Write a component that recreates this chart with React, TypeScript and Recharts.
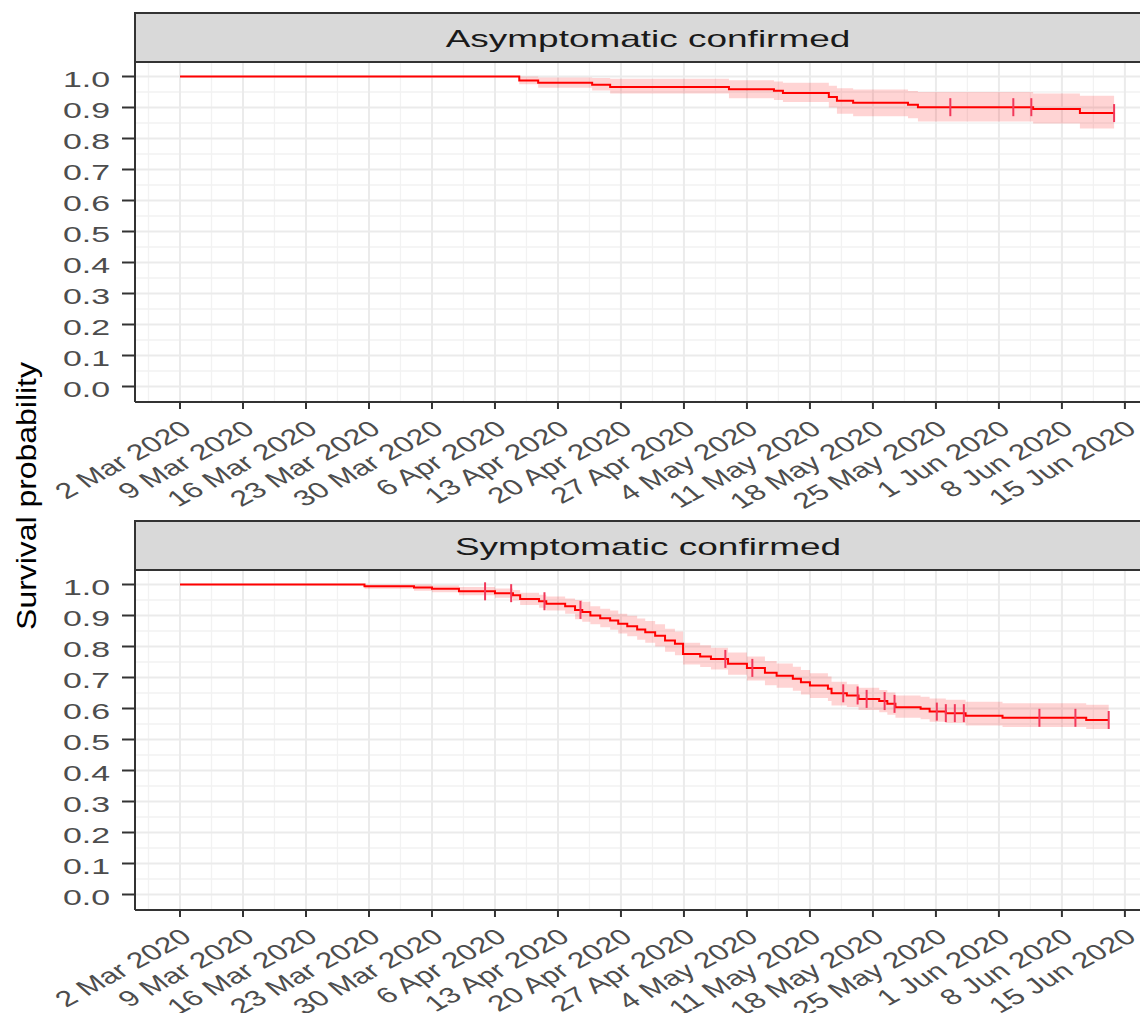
import React from "react";
import { ComposedChart, Line, Area, Scatter, XAxis, YAxis, CartesianGrid } from "recharts";

const FONT = '"Liberation Sans", Arial, Helvetica, sans-serif';

// ---- axis ticks ----
const xTickDays = [0, 7, 14, 21, 28, 35, 42, 49, 56, 63, 70, 77, 84, 91, 98, 105];
const xTickLabels = [
  "2 Mar 2020", "9 Mar 2020", "16 Mar 2020", "23 Mar 2020", "30 Mar 2020", "6 Apr 2020",
  "13 Apr 2020", "20 Apr 2020", "27 Apr 2020", "4 May 2020", "11 May 2020", "18 May 2020",
  "25 May 2020", "1 Jun 2020", "8 Jun 2020", "15 Jun 2020",
];
const xMinorDays = [-3.5, 3.5, 10.5, 17.5, 24.5, 31.5, 38.5, 45.5, 52.5, 59.5, 66.5, 73.5, 80.5, 87.5, 94.5, 101.5, 108.5];
const yTicks = [0, 0.1, 0.2, 0.3, 0.4, 0.5, 0.6, 0.7, 0.8, 0.9, 1.0];
const yTickLabels = ["0.0", "0.1", "0.2", "0.3", "0.4", "0.5", "0.6", "0.7", "0.8", "0.9", "1.0"];
const yMinor = [0.05, 0.15, 0.25, 0.35, 0.45, 0.55, 0.65, 0.75, 0.85, 0.95];

// ---- Asymptomatic confirmed (days since 2 Mar 2020) ----
const asymTime = [0, 37.7, 39.8, 45.8, 47.8, 61, 66, 67, 72.1, 73, 74.8, 80.9, 82, 94.8, 100, 103.8];
const asymSurv = [1, 0.987, 0.98, 0.973, 0.966, 0.959, 0.954, 0.947, 0.934, 0.922, 0.915, 0.909, 0.901, 0.895, 0.882, 0.882];
const asymLower = [1, 0.975, 0.964, 0.955, 0.945, 0.93, 0.924, 0.918, 0.9, 0.88, 0.872, 0.865, 0.855, 0.848, 0.832, 0.832];
const asymUpper = [1, 1.0, 0.997, 0.995, 0.993, 0.988, 0.984, 0.98, 0.97, 0.962, 0.958, 0.953, 0.95, 0.945, 0.938, 0.938];
const asymCensorTime = [85.6, 92.6, 94.6, 103.8];
const asymCensorSurv = [0.901, 0.901, 0.901, 0.882];

// ---- Symptomatic confirmed ----
const symTime = [
  0, 20.5, 26, 28, 31, 35, 37, 37.8, 39.9, 40.7, 42.8, 43.9, 44.7, 45.6, 46.7, 47.8, 48.7, 49.7,
  50.8, 51.7, 52.8, 53.9, 55, 55.9, 57.8, 59, 60.9, 63, 65, 66.3, 68.1, 69, 70, 72, 72.4, 74.1,
  75.4, 77.7, 78.6, 79.5, 82.3, 83.3, 85.1, 87.3, 91.4, 100.7, 103.2,
];
const symSurv = [
  1, 0.994, 0.99, 0.986, 0.978, 0.972, 0.965, 0.953, 0.946, 0.938, 0.93, 0.918, 0.911, 0.9, 0.891, 0.884, 0.873, 0.865,
  0.855, 0.846, 0.835, 0.819, 0.809, 0.776, 0.768, 0.76, 0.744, 0.731, 0.715, 0.706, 0.696, 0.685, 0.674, 0.664, 0.649, 0.642,
  0.631, 0.624, 0.615, 0.604, 0.599, 0.59, 0.585, 0.577, 0.57, 0.563, 0.563,
];
const symLower = [
  1, 0.986, 0.98, 0.975, 0.965, 0.957, 0.948, 0.934, 0.925, 0.916, 0.906, 0.888, 0.88, 0.872, 0.862, 0.854, 0.842, 0.833,
  0.822, 0.812, 0.8, 0.783, 0.772, 0.742, 0.734, 0.726, 0.709, 0.69, 0.675, 0.667, 0.657, 0.645, 0.634, 0.624, 0.61, 0.605,
  0.595, 0.588, 0.58, 0.57, 0.565, 0.557, 0.553, 0.545, 0.54, 0.534, 0.534,
];
const symUpper = [
  1, 1.0, 1.0, 0.997, 0.992, 0.987, 0.982, 0.973, 0.967, 0.961, 0.955, 0.95, 0.944, 0.93, 0.922, 0.916, 0.906, 0.899,
  0.89, 0.882, 0.872, 0.857, 0.848, 0.812, 0.804, 0.796, 0.781, 0.768, 0.753, 0.745, 0.735, 0.724, 0.714, 0.703, 0.686, 0.678,
  0.667, 0.66, 0.652, 0.642, 0.638, 0.632, 0.628, 0.622, 0.617, 0.612, 0.612,
];
const symCensorTime = [33.9, 36.8, 40.5, 44.5, 60.6, 63.6, 73.7, 75.3, 76.3, 78.3, 79.4, 84.1, 85.1, 86.1, 87.1, 95.5, 99.5, 103.2];
const symCensorSurv = [0.978, 0.972, 0.946, 0.918, 0.76, 0.731, 0.649, 0.642, 0.631, 0.624, 0.615, 0.59, 0.585, 0.585, 0.585, 0.57, 0.57, 0.563];

const SX = 1.54;

const XTick = (props: any) => {
  const { x, y, payload } = props;
  const idx = xTickDays.indexOf(payload.value);
  const label = idx >= 0 ? xTickLabels[idx] : "";
  return (
    <text
      transform={`translate(${x - 1},${y + 8}) scale(1.45,1) rotate(-38)`}
      textAnchor="end"
      dy="0.72em"
      fontSize={22}
      fontFamily={FONT}
      fill="#4D4D4D"
    >
      {label}
    </text>
  );
};

const YTick = (props: any) => {
  const { x, y, payload } = props;
  const idx = yTicks.indexOf(payload.value);
  const label = idx >= 0 ? yTickLabels[idx] : "";
  return (
    <text
      transform={`translate(${x - 10},${y + 10}) scale(${SX},1)`}
      textAnchor="end"
      fontSize={22}
      fontFamily={FONT}
      fill="#4D4D4D"
    >
      {label}
    </text>
  );
};

const CensorMark = (props: any) => {
  const { cx, cy } = props;
  if (cx == null || cy == null) return null;
  return <line x1={cx} x2={cx} y1={cy - 9} y2={cy + 9} stroke="#F2385A" strokeWidth={2} />;
};

function Panel(props: {
  title: string;
  top: number;
  time: number[];
  surv: number[];
  lower: number[];
  upper: number[];
  cTime: number[];
  cSurv: number[];
}) {
  const { title, top, time, surv, lower, upper, cTime, cSurv } = props;
  const lineData = time.map((t, i) => ({ t, s: surv[i], band: [lower[i], upper[i]] }));
  const censorData = cTime.map((t, i) => ({ t, s: cSurv[i] }));
  return (
    <>
      <div style={{ position: "absolute", left: 0, top, width: 1200, height: 520 }}>
        <ComposedChart width={1200} height={520} margin={{ top: 61, right: 40, bottom: 28, left: 0 }}>
          <CartesianGrid
            horizontalValues={yMinor}
            verticalValues={xMinorDays}
            stroke="#F2F2F2"
            strokeWidth={1.3}
            fill="#FFFFFF"
          />
          <CartesianGrid
            horizontalValues={yTicks}
            verticalValues={xTickDays}
            stroke="#EBEBEB"
            strokeWidth={2}
            fill="none"
          />
          <XAxis
            type="number"
            dataKey="t"
            domain={[-5, 108.9]}
            allowDataOverflow
            ticks={xTickDays}
            interval={0}
            tick={(p: any) => <XTick {...p} />}
            tickSize={7}
            height={90}
            axisLine={{ stroke: "#333333", strokeWidth: 2 }}
            tickLine={{ stroke: "#333333", strokeWidth: 2 }}
          />
          <YAxis
            type="number"
            domain={[-0.05, 1.05]}
            allowDataOverflow
            ticks={yTicks}
            interval={0}
            width={135}
            tick={(p: any) => <YTick {...p} />}
            tickSize={13}
            axisLine={{ stroke: "#333333", strokeWidth: 2 }}
            tickLine={{ stroke: "#333333", strokeWidth: 2 }}
          />
          <Area
            type="stepAfter"
            data={lineData}
            dataKey="band"
            fill="#FF0000"
            fillOpacity={0.17}
            stroke="none"
            dot={false}
            activeDot={false}
            isAnimationActive={false}
          />
          <Line
            type="stepAfter"
            data={lineData}
            dataKey="s"
            stroke="#FF0000"
            strokeWidth={2}
            dot={false}
            activeDot={false}
            isAnimationActive={false}
          />
          <Scatter data={censorData} dataKey="s" shape={CensorMark} isAnimationActive={false} />
        </ComposedChart>
      </div>
      <div
        style={{
          position: "absolute",
          left: 134,
          top: top + 12,
          width: 1040,
          height: 51,
          boxSizing: "border-box",
          border: "2px solid #333333",
          background: "#D9D9D9",
          zIndex: 2,
        }}
      >
        <svg width={1036} height={47} style={{ display: "block" }}>
          <text
            transform={`translate(${648 - 136},${33}) scale(${SX},1)`}
            textAnchor="middle"
            fontSize={24}
            fontFamily={FONT}
            fill="#1A1A1A"
          >
            {title}
          </text>
        </svg>
      </div>
    </>
  );
}

export default function App() {
  return (
    <div
      style={{
        position: "absolute",
        left: 0,
        top: 0,
        width: 1140,
        height: 1013,
        overflow: "hidden",
        background: "#FFFFFF",
        fontFamily: FONT,
      }}
    >
      <Panel
        title="Asymptomatic confirmed"
        top={0}
        time={asymTime}
        surv={asymSurv}
        lower={asymLower}
        upper={asymUpper}
        cTime={asymCensorTime}
        cSurv={asymCensorSurv}
      />
      <Panel
        title="Symptomatic confirmed"
        top={508}
        time={symTime}
        surv={symSurv}
        lower={symLower}
        upper={symUpper}
        cTime={symCensorTime}
        cSurv={symCensorSurv}
      />
      <svg
        width={60}
        height={1013}
        style={{ position: "absolute", left: 0, top: 0, zIndex: 3, pointerEvents: "none" }}
      >
        <text
          transform={`translate(36,496) rotate(-90) scale(1.14,1)`}
          textAnchor="middle"
          fontSize={28}
          fontFamily={FONT}
          fill="#000000"
        >
          Survival probability
        </text>
      </svg>
    </div>
  );
}
